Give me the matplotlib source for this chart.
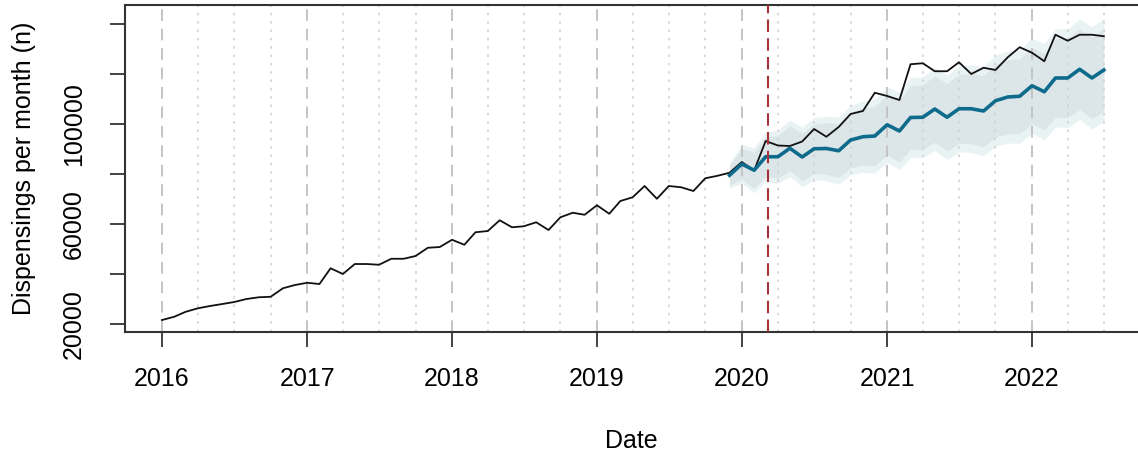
import numpy as np
import pandas as pd
import matplotlib.pyplot as plt
import matplotlib.dates as mdates

plt.rcParams['font.family'] = ['Liberation Sans', 'DejaVu Sans']

# observed monthly dispensings, 2016-01 .. 2022-07
months = pd.date_range("2016-01-01", "2022-07-01", freq="MS")
observed = [
    21600, 22900, 24900, 26300, 27200, 28000, 28800, 30000, 30700, 30900, 34300, 35600,
    36500, 36000, 42300, 40000, 44000, 44000, 43700, 46100, 46100, 47200, 50500, 50800,
    53700, 51700, 56700, 57200, 61500, 58700, 59100, 60700, 57600, 62700, 64500, 63700,
    67500, 64100, 69200, 70700, 75200, 70100, 75200, 74700, 73200, 78300, 79300, 80500,
    84800, 81400, 93200, 91400, 91200, 93000, 98000, 94900, 98800, 104000, 105200, 112500,
    111200, 109600, 123900, 124300, 121100, 121100, 124700, 120000, 122500, 121600, 126700, 130700,
    128500, 125100, 135700, 133300, 135700, 135700, 135100,
]

# counterfactual prediction, 2019-12 .. 2022-07
pred_months = pd.date_range("2019-12-01", "2022-07-01", freq="MS")
predicted = [
    79500, 84000, 81500, 86900, 86900, 90300, 86800, 90100, 90200, 89300, 93600, 94900,
    95200, 99700, 97200, 102600, 102700, 106000, 102700, 106100, 106100, 105200, 109300, 110800,
    111100, 115300, 112900, 118400, 118400, 121900, 118400, 121600,
]
# half widths of the prediction intervals
half_80 = [
    4000, 6200, 7200, 7900, 8500, 9000, 9500, 9900, 10400, 10700, 11100, 11400,
    11800, 12100, 12400, 12700, 13000, 13300, 13500, 13800, 14000, 14300, 14500, 14800,
    15000, 15200, 15400, 15700, 15900, 16100, 16300, 16500,
]
half_95 = [
    5000, 7800, 9000, 9900, 10600, 11300, 11900, 12400, 12900, 13400, 13900, 14300,
    14700, 15100, 15500, 15900, 16200, 16600, 16900, 17200, 17500, 17900, 18200, 18500,
    18700, 19000, 19300, 19600, 19800, 20100, 20400, 20600,
]
intervention = pd.Timestamp("2020-03-06")

y_ticks = [20000, 40000, 60000, 80000, 100000, 120000, 140000]
y_labels = ["20000", "", "60000", "", "100000", "", ""]
years = pd.date_range("2016-01-01", "2022-01-01", freq="YS")
quarters = [d for d in pd.date_range("2016-04-01", "2022-07-01", freq="QS-JAN") if d.month != 1]

pred = np.array(predicted)
h80 = np.array(half_80)
h95 = np.array(half_95)

fig = plt.figure(figsize=(11.38, 4.57), dpi=100)
ax = fig.add_axes([0.1098, 0.274, 0.8902, 0.714])

# bandas
ax.fill_between(pred_months, pred - h95, pred + h95, color='#eaf3f4', lw=0, zorder=1)
ax.fill_between(pred_months, pred - h80, pred + h80, color='#dce6e8', lw=0, zorder=1)

# grid
for d in years:
    ax.axvline(d, color='#c4c4c4', lw=1.4, ls=(0, (6, 4)), zorder=2)
for d in quarters:
    ax.axvline(d, color='#d2d2d2', lw=1.2, ls=(0, (1.5, 3.5)), zorder=2)

ax.plot(months, observed, color='#111111', lw=1.3, zorder=3)
ax.plot(pred_months, predicted, color='#0f6b8c', lw=2.6, zorder=4)
ax.axvline(intervention, color='#a8323a', lw=1.5, ls=(0, (6, 3)), zorder=5)

ax.set_xlim(pd.Timestamp("2015-09-30"), pd.Timestamp("2022-09-25"))
ax.set_ylim(16900, 147400)
ax.set_xticks(years)
ax.xaxis.set_major_formatter(mdates.DateFormatter('%Y'))
ax.set_yticks(y_ticks)
ax.set_yticklabels(y_labels, rotation=90, va='center')

ax.tick_params(axis='both', length=11, width=1.2, color='#222222', labelsize=18)
ax.tick_params(axis='x', pad=14)
ax.tick_params(axis='y', pad=17)

for s in ['left', 'bottom', 'top']:
    ax.spines[s].set_color('#333333')
    ax.spines[s].set_linewidth(1.5)
ax.spines['right'].set_visible(False)

ax.set_xlabel("Date", fontsize=18, labelpad=28)
ax.set_ylabel("Dispensings per month (n)", fontsize=18, labelpad=19)

fig.savefig("out.png", dpi=100)
